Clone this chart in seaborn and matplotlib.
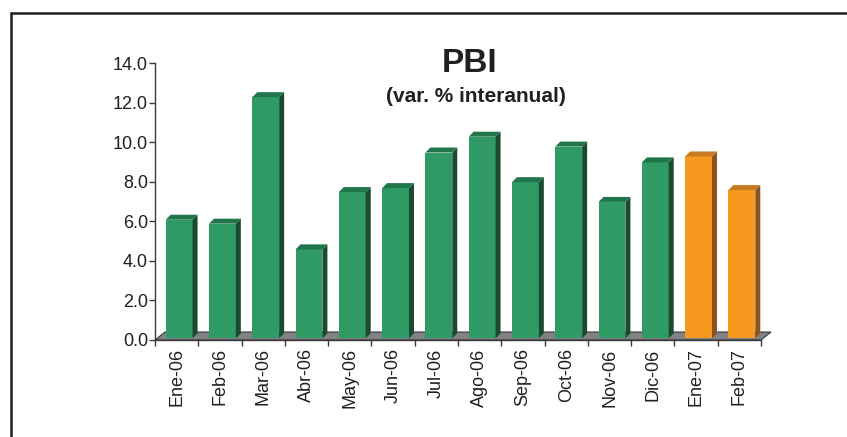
import matplotlib
matplotlib.use("Agg")
import matplotlib.pyplot as plt
from matplotlib.patches import Polygon
from matplotlib.lines import Line2D
from matplotlib.transforms import ScaledTranslation
import seaborn as sns
import pandas as pd

# data
months = ["Ene-06", "Feb-06", "Mar-06", "Abr-06", "May-06", "Jun-06", "Jul-06",
          "Ago-06", "Sep-06", "Oct-06", "Nov-06", "Dic-06", "Ene-07", "Feb-07"]
values = [6.0, 5.8, 12.2, 4.5, 7.4, 7.6, 9.4, 10.2, 7.9, 9.7, 6.9, 8.9, 9.2, 7.5]
periods = ["2006"] * 12 + ["2007"] * 2

front = {"2006": "#2f9a64", "2007": "#f7991e"}
side = {"2006": "#1a4b30", "2007": "#8a5422"}
top = {"2006": "#1f7649", "2007": "#c77a22"}

sns.set_style("white")
plt.rcParams["font.family"] = ["Liberation Sans", "DejaVu Sans"]
TXT = "#231f20"

W, H = 847, 437
fig = plt.figure(figsize=(W / 100, H / 100), dpi=100)
ax = fig.add_axes([155 / W, (H - 340) / H, 606 / W, 276.7 / H])

df = pd.DataFrame({"mes": months, "var": values, "periodo": periods})
sns.barplot(data=df, x="mes", y="var", hue="periodo", palette=front,
            width=0.62, dodge=False, legend=False, ax=ax, saturation=1,
            edgecolor="none", zorder=3)

ax.set_xlim(-0.5, 13.5)
ax.set_ylim(0, 14)

# pixel -> data units
p0, p1 = ax.transData.transform([(0, 0), (1, 1)])
ux, uy = p1[0] - p0[0], p1[1] - p0[1]

# floor
fdx, fdy = 10 / ux, 8 / uy
floor = Polygon([(-0.5, 0), (13.5, 0), (13.5 + fdx, fdy), (-0.5 + fdx, fdy)],
                closed=True, facecolor="#808285", edgecolor="#3a3a3a",
                linewidth=0.8, zorder=1, clip_on=False)
ax.add_patch(floor)

# 3D faces of the bars
shift = ScaledTranslation(2.5 / 100, 1.7 / 100, fig.dpi_scale_trans)
d_x, d_y = 5 / ux, 5 / uy
for level, cont in zip(["2006", "2007"], ax.containers):
    for bar in cont:
        x0 = bar.get_x()
        x1 = x0 + bar.get_width()
        h = bar.get_height()
        if h != h or h == 0:
            continue
        bar.set_transform(ax.transData + shift)
        bar.set_clip_on(False)
        sd = Polygon([(x1, 0), (x1, h), (x1 + d_x, h + d_y), (x1 + d_x, d_y)],
                     closed=True, facecolor=side[level], edgecolor="none",
                     transform=ax.transData + shift, zorder=3, clip_on=False)
        tp = Polygon([(x0, h), (x1, h), (x1 + d_x, h + d_y), (x0 + d_x, h + d_y)],
                     closed=True, facecolor=top[level], edgecolor="none",
                     transform=ax.transData + shift, zorder=3, clip_on=False)
        ax.add_patch(sd)
        ax.add_patch(tp)

# axes styling
for s in ["top", "right"]:
    ax.spines[s].set_visible(False)
for s in ["left", "bottom"]:
    ax.spines[s].set_color("#3a3a3a")
    ax.spines[s].set_linewidth(1.0)
    ax.spines[s].set_zorder(4)

ax.set_yticks([0, 2, 4, 6, 8, 10, 12, 14])
ax.set_yticklabels([f"{v:.1f}" for v in [0, 2, 4, 6, 8, 10, 12, 14]])
ax.tick_params(axis="y", left=True, length=4, width=1, color="#3a3a3a",
               pad=1, labelsize=13, labelcolor=TXT)

ax.set_xticks(range(len(months)))
ax.set_xticklabels(months, rotation=90)
ax.set_xticks([i - 0.5 for i in range(len(months) + 1)], minor=True)
ax.tick_params(axis="x", which="major", bottom=True, length=0, pad=6,
               labelsize=13, labelcolor=TXT)
ax.tick_params(axis="x", which="minor", bottom=True, length=4.5, width=1,
               color="#3a3a3a")
ax.set_xlabel("")
ax.set_ylabel("")

# titles
fig.text(470 / W, 1 - 72 / H, "PBI", ha="center", va="baseline",
         fontsize=24, fontweight="bold", color=TXT)
fig.text(476 / W, 1 - 102 / H, "(var. % interanual)", ha="center",
         va="baseline", fontsize=15, fontweight="bold", color=TXT)

# outer frame (left and top edges visible)
fig.add_artist(Line2D([10.5 / W, 10.5 / W], [0, 1 - 13.3 / H],
                      color="#231f20", linewidth=1.8))
fig.add_artist(Line2D([10.5 / W, 1], [1 - 13.3 / H, 1 - 13.3 / H],
                      color="#231f20", linewidth=1.8))

fig.savefig("out.png", dpi=100)
